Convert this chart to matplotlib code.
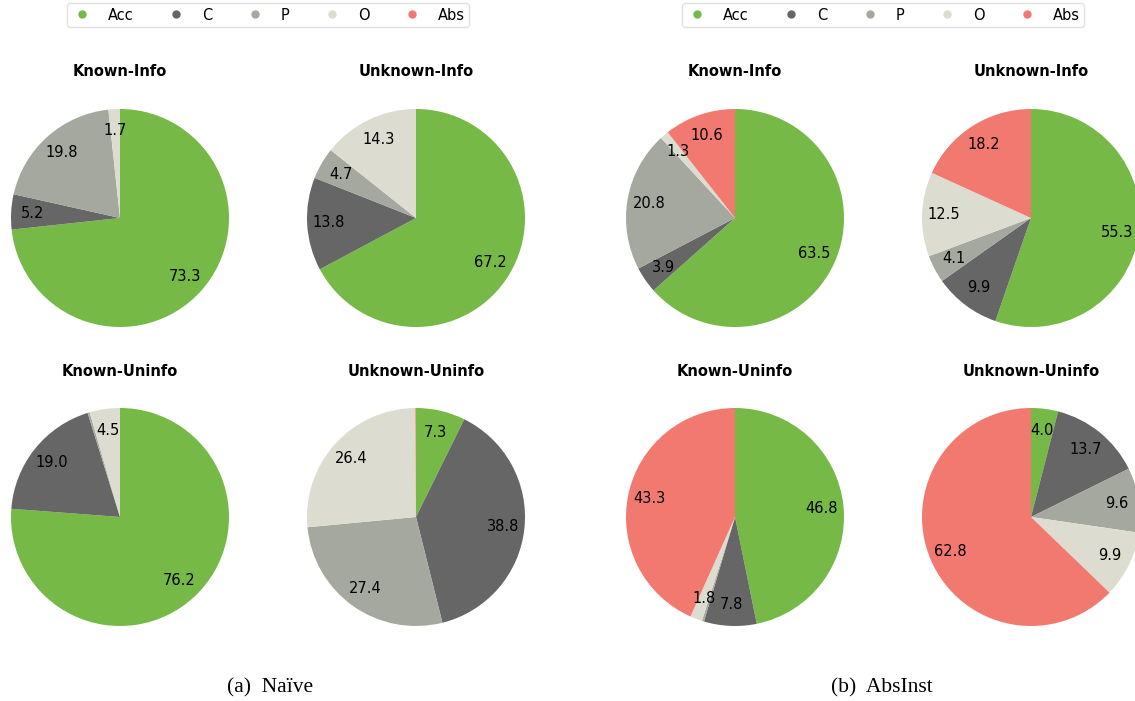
import matplotlib.pyplot as plt
from matplotlib.lines import Line2D

# categorias y colores
labels = ["Acc", "C", "P", "O", "Abs"]
colors = ["#76b947", "#666666", "#a4a89f", "#dcddd0", "#f27970"]
titles = ["Known-Info", "Unknown-Info", "Known-Uninfo", "Unknown-Uninfo"]

# (a) Naive
naive_known_info = [73.3, 5.2, 19.8, 1.7, 0.0]
naive_unknown_info = [67.2, 13.8, 4.7, 14.3, 0.0]
naive_known_uninfo = [76.2, 19.0, 0.3, 4.5, 0.0]
naive_unknown_uninfo = [7.3, 38.8, 27.4, 26.4, 0.1]

# (b) AbsInst
abs_known_info = [63.5, 3.9, 20.8, 1.3, 10.6]
abs_unknown_info = [55.3, 9.9, 4.1, 12.5, 18.2]
abs_known_uninfo = [46.8, 7.8, 0.3, 1.8, 43.3]
abs_unknown_uninfo = [4.0, 13.7, 9.6, 9.9, 62.8]

W, H = 1135, 701
fig = plt.figure(figsize=(W / 100, H / 100), dpi=100)

R = 109  # radio en pixeles
centros_x = [[120, 416], [735, 1031]]
centros_y = [218, 517]

paneles = [
    [naive_known_info, naive_unknown_info, naive_known_uninfo, naive_unknown_uninfo],
    [abs_known_info, abs_unknown_info, abs_known_uninfo, abs_unknown_uninfo],
]

for k, datos in enumerate(paneles):
    for i, vals in enumerate(datos):
        fila, col = divmod(i, 2)
        cx = centros_x[k][col]
        cy = centros_y[fila]
        ax = fig.add_axes([(cx - R) / W, 1 - (cy + R) / H, 2 * R / W, 2 * R / H])
        wedges, textos, autotextos = ax.pie(vals, colors=colors, startangle=90,
                                            counterclock=False, autopct="%1.1f",
                                            pctdistance=0.8, radius=1,
                                            textprops={"fontsize": 10.5})
        # poner el valor original (no el porcentaje normalizado)
        for t, v in zip(autotextos, vals):
            t.set_text(f"{v:.1f}" if v >= 1.0 else "")
        ax.set_xlim(-1, 1)
        ax.set_ylim(-1, 1)
        ax.set_aspect("equal")
        ax.axis("off")
        fig.text(cx / W, 1 - (cy - 146) / H, titles[i], ha="center", va="center",
                 fontsize=10.5, fontweight="bold")

handles = [Line2D([], [], marker="o", linestyle="", color=c, markersize=5) for c in colors]
for cx_leg in [268, 883]:
    leg = fig.legend(handles, labels, loc="center", bbox_to_anchor=(cx_leg / W, 1 - 15 / H),
                     ncol=5, fontsize=10.5, frameon=True, handlelength=1.5,
                     handletextpad=1.0, columnspacing=2.2, borderpad=0.3, fancybox=True)
    leg.get_frame().set_edgecolor("#d9d9d9")

fig.text(270 / W, 1 - 688 / H, "(a)  Naïve", ha="center", va="center",
         fontsize=15.5, family="Liberation Serif")
fig.text(882 / W, 1 - 688 / H, "(b)  AbsInst", ha="center", va="center",
         fontsize=15.5, family="Liberation Serif")

fig.savefig("out.png", dpi=100)
